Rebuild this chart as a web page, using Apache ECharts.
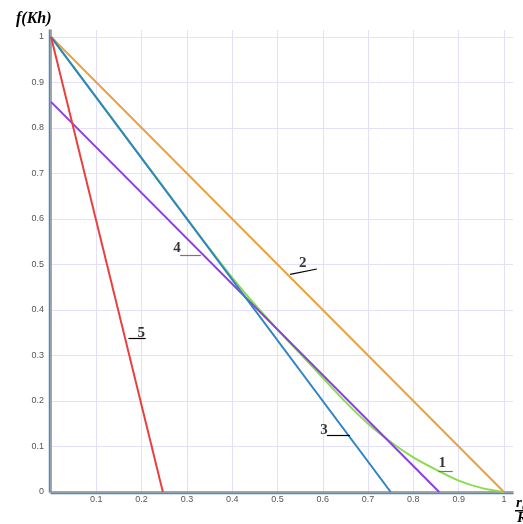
<!DOCTYPE html>
<html>
<head>
<meta charset="utf-8">
<script src="https://cdn.jsdelivr.net/npm/echarts@6/dist/echarts.min.js"></script>
<style>html,body{margin:0;padding:0;background:#fff}#c{width:523px;height:524px}</style>
</head>
<body>
<div id="c"></div>
<script>
// Curve data (x = r0/R, y = f(Kh))
const curve1X = [0, 0.1, 0.2, 0.3, 0.35, 0.4, 0.45, 0.5, 0.55, 0.6, 0.65, 0.7, 0.75, 0.8, 0.85, 0.9, 0.95, 1.0];
const curve1Y = [1, 0.867, 0.734, 0.601, 0.535, 0.471, 0.412, 0.357, 0.304, 0.251, 0.198, 0.150, 0.110, 0.076, 0.049, 0.025, 0.009, 0];
const curve2X = [0, 1];
const curve2Y = [1, 0];
const curve3X = [0, 0.75];
const curve3Y = [1, 0];
const curve4X = [0, 0.857];
const curve4Y = [0.857, 0];
const curve5X = [0, 0.247];
const curve5Y = [1, 0];

// Curve number labels (data coords) and their leader lines
const labelText = ['1', '2', '3', '4', '5'];
const labelX = [0.864, 0.556, 0.603, 0.278, 0.199];
const labelY = [0.064, 0.503, 0.137, 0.535, 0.349];
const leaderX1 = [0.855, 0.528, 0.609, 0.285, 0.171];
const leaderY1 = [0.046, 0.478, 0.124, 0.521, 0.337];
const leaderX2 = [0.887, 0.587, 0.660, 0.331, 0.209];
const leaderY2 = [0.046, 0.490, 0.124, 0.521, 0.337];
const leaderColor = ['#777777', '#000000', '#000000', '#777777', '#000000'];

const xTickInterval = 0.1;
const yTickInterval = 0.1;

function pairs(xs, ys) { return xs.map((x, i) => [x, ys[i]]); }

const chart = echarts.init(document.getElementById('c'), null, {renderer: 'canvas'});
const lineBase = (name, xs, ys, color, z) => ({
  name, type: 'line', data: pairs(xs, ys), showSymbol: false, symbol: 'none',
  smooth: name === 'c1' ? 0.3 : false,
  lineStyle: {color, width: 2}, z, animation: false
});

chart.setOption({
  animation: false,
  title: {
    text: 'f(Kh)', left: 11, top: 6,
    textStyle: {fontFamily: 'Liberation Serif', fontStyle: 'italic', fontWeight: 'bold', fontSize: 16, color: '#000'}
  },
  grid: {left: 51, right: 10, top: 30, bottom: 32},
  xAxis: {
    type: 'value', min: 0, max: 1.02, interval: xTickInterval,
    axisLine: {show: true, onZero: false, lineStyle: {color: '#8a8a8a', width: 1.5, shadowColor: '#3d8fd0', shadowOffsetY: 1.5, shadowBlur: 0}},
    axisTick: {show: false},
    axisLabel: {showMinLabel: false, showMaxLabel: false, margin: 3, fontSize: 9, color: '#555', fontFamily: 'Liberation Sans'},
    splitLine: {show: true, showMinLine: false, showMaxLine: false, lineStyle: {color: '#e3e0fb', width: 1}}
  },
  yAxis: {
    type: 'value', min: 0, max: 1.015, interval: yTickInterval,
    axisLine: {show: true, onZero: false, lineStyle: {color: '#8a8a8a', width: 1.5, shadowColor: '#3d8fd0', shadowOffsetX: -1.5, shadowBlur: 0}},
    axisTick: {show: false},
    axisLabel: {showMaxLabel: false, margin: 7, fontSize: 9, color: '#555', fontFamily: 'Liberation Sans'},
    splitLine: {show: true, showMinLine: false, showMaxLine: false, lineStyle: {color: '#e3e0fb', width: 1}}
  },
  graphic: [
    {type: 'text', left: 516, top: 496, style: {text: 'r₀', font: 'italic bold 15px "Liberation Serif"', fill: '#000'}},
    {type: 'rect', left: 515, top: 510, shape: {width: 20, height: 1.5}, style: {fill: '#000'}},
    {type: 'text', left: 517, top: 511, style: {text: 'R', font: 'italic bold 15px "Liberation Serif"', fill: '#000'}}
  ],
  series: [
    lineBase('c1', curve1X, curve1Y, '#8bdc4c', 2),
    lineBase('c2', curve2X, curve2Y, '#e9a241', 3),
    lineBase('c4', curve4X, curve4Y, '#8a3ee6', 4),
    lineBase('c3', curve3X, curve3Y, '#2f83c2', 5),
    lineBase('c5', curve5X, curve5Y, '#e8403f', 6),
    {
      type: 'lines', coordinateSystem: 'cartesian2d', z: 7, animation: false,
      data: labelText.map((t, i) => ({
        coords: [[leaderX1[i], leaderY1[i]], [leaderX2[i], leaderY2[i]]],
        lineStyle: {color: leaderColor[i], width: 1.2, opacity: 1}
      }))
    },
    {
      type: 'scatter', z: 8, symbolSize: 0, animation: false, silent: true,
      data: labelText.map((t, i) => ({value: [labelX[i], labelY[i]], name: t})),
      label: {
        show: true, position: 'inside', formatter: p => p.name,
        fontFamily: 'Liberation Serif', fontWeight: 'bold', fontSize: 15, color: '#000'
      }
    }
  ]
});
</script>
</body>
</html>
